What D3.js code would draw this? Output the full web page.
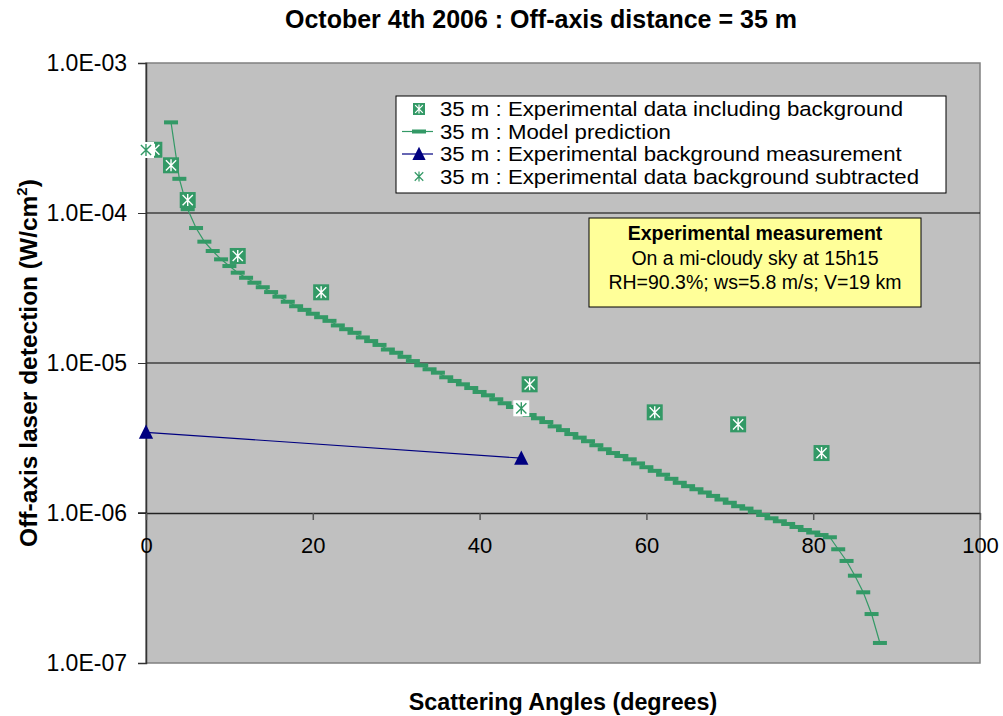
<!DOCTYPE html>
<meta charset="utf-8">
<style>
  body { margin: 0; background: #fff; }
  svg text { font-family: "Liberation Sans", Arial, sans-serif; fill: #000; }
</style>
<svg id="chart" width="1003" height="716"></svg>
<script src="https://cdn.jsdelivr.net/npm/d3@7/dist/d3.min.js"></script>
<script>

// model prediction, one point per degree (3..88)
var modelAngles = d3.range(3, 89);
var modelValues = [
  4.02e-4, 1.69e-4, 1.06e-4, 7.94e-5, 6.44e-5, 5.58e-5, 4.91e-5, 4.43e-5, 4.00e-5, 3.70e-5,
  3.43e-5, 3.20e-5, 2.97e-5, 2.77e-5, 2.56e-5, 2.39e-5, 2.26e-5, 2.13e-5, 2.02e-5, 1.91e-5,
  1.78e-5, 1.68e-5, 1.59e-5, 1.48e-5, 1.40e-5, 1.32e-5, 1.23e-5, 1.17e-5, 1.10e-5, 1.03e-5,
  9.65e-6, 9.08e-6, 8.62e-6, 8.03e-6, 7.59e-6, 7.21e-6, 6.81e-6, 6.41e-6, 6.09e-6, 5.73e-6,
  5.39e-6, 5.09e-6, 4.81e-6, 4.50e-6, 4.28e-6, 4.04e-6, 3.78e-6, 3.57e-6, 3.36e-6, 3.18e-6,
  3.01e-6, 2.83e-6, 2.66e-6, 2.51e-6, 2.40e-6, 2.28e-6, 2.14e-6, 2.02e-6, 1.91e-6, 1.80e-6,
  1.69e-6, 1.59e-6, 1.51e-6, 1.44e-6, 1.37e-6, 1.30e-6, 1.23e-6, 1.17e-6, 1.11e-6, 1.07e-6,
  1.02e-6, 9.70e-7, 9.22e-7, 8.81e-7, 8.45e-7, 8.07e-7, 7.70e-7, 7.41e-7, 7.13e-7, 6.89e-7,
  5.73e-7, 4.79e-7, 3.82e-7, 2.96e-7, 2.12e-7, 1.36e-7
];

var inclAngles = [1, 3, 5, 11, 21, 46, 61, 71, 81];
var inclValues = [2.64e-4, 2.08e-4, 1.22e-4, 5.17e-5, 2.96e-5, 7.21e-6, 4.69e-6, 3.90e-6, 2.51e-6];

var bgAngles = [0, 45];
var bgValues = [3.45e-6, 2.32e-6];

var subAngles = [0, 45];
var subValues = [2.63e-4, 4.99e-6];

var xTicks = [0, 20, 40, 60, 80, 100];
var yTicks = [1e-3, 1e-4, 1e-5, 1e-6, 1e-7];
var yTickLabels = ["1.0E-03", "1.0E-04", "1.0E-05", "1.0E-06", "1.0E-07"];

var legendLabels = [
  "35 m : Experimental data including background",
  "35 m : Model prediction",
  "35 m : Experimental background measurement",
  "35 m : Experimental data background subtracted"
];
var noteLines = [
  "Experimental measurement",
  "On a mi-cloudy sky at 15h15",
  "RH=90.3%; ws=5.8 m/s; V=19 km"
];

var green = "#339966", navy = "#000080";

var svg = d3.select("#chart");

var x = d3.scaleLinear().domain([0, 100]).range([146, 980]);
var y = d3.scaleLog().domain([1e-7, 1e-3]).range([663, 63]);

// plot area
svg.append("rect")
    .attr("x", x(0)).attr("y", y(1e-3))
    .attr("width", x(100) - x(0)).attr("height", y(1e-7) - y(1e-3))
    .attr("fill", "#c0c0c0")
    .attr("stroke", "#808080")
    .attr("stroke-width", 1.5);

svg.append("g").selectAll("line")
  .data([1e-4, 1e-5])
  .enter().append("line")
    .attr("x1", x(0)).attr("x2", x(100))
    .attr("y1", function(d) { return y(d); })
    .attr("y2", function(d) { return y(d); })
    .attr("stroke", "#000").attr("stroke-width", 1);

// y axis
var yAxis = svg.append("g")
    .attr("transform", "translate(" + x(0) + ",0)")
    .call(d3.axisLeft(y)
      .tickValues(yTicks)
      .tickFormat(function(d, i) { return yTickLabels[i]; })
      .tickSize(8)
      .tickPadding(11));
yAxis.select(".domain").attr("stroke", "#333").attr("stroke-width", 1.5);
yAxis.selectAll(".tick line").attr("stroke", "#333");
yAxis.selectAll("text").attr("font-size", 23);

// x axis crosses at 1e-6
var xAxis = svg.append("g")
    .attr("transform", "translate(0," + y(1e-6) + ")")
    .call(d3.axisBottom(x)
      .tickValues(xTicks)
      .tickSize(7)
      .tickSizeOuter(0)
      .tickPadding(17));
xAxis.select(".domain").attr("stroke", "#222").attr("stroke-width", 1.5);
xAxis.selectAll(".tick line").attr("stroke", "#555").attr("stroke-width", 1.5);
xAxis.selectAll("text").attr("font-size", 22);
// the x axis line runs out to the y tick marks
svg.append("line")
    .attr("x1", x(0) - 8).attr("x2", x(0))
    .attr("y1", y(1e-6)).attr("y2", y(1e-6))
    .attr("stroke", "#222").attr("stroke-width", 1.5);

function asterisk(sel, r, color, w) {
  sel.append("path")
      .attr("d", "M0," + (-r) + "V" + r +
                 "M" + (-r * 0.85) + "," + (-r * 0.85) + "L" + (r * 0.85) + "," + (r * 0.85) +
                 "M" + (-r * 0.85) + "," + (r * 0.85) + "L" + (r * 0.85) + "," + (-r * 0.85))
      .attr("stroke", color)
      .attr("stroke-width", w)
      .attr("fill", "none");
}

function triangle(sel, s) {
  sel.append("path")
      .attr("d", "M0," + (-s * 0.6) + "L" + (s * 0.55) + "," + (s * 0.5) + "L" + (-s * 0.55) + "," + (s * 0.5) + "Z")
      .attr("fill", navy);
}

// model prediction
var modelPts = modelAngles.map(function(a, i) { return [a, modelValues[i]]; });
svg.append("path")
    .datum(modelPts)
    .attr("fill", "none")
    .attr("stroke", green)
    .attr("stroke-width", 1.2)
    .attr("d", d3.line()
      .x(function(d) { return x(d[0]); })
      .y(function(d) { return y(d[1]); }));

svg.append("g").selectAll("rect")
  .data(modelPts)
  .enter().append("rect")
    .attr("x", function(d) { return x(d[0]) - 7; })
    .attr("y", function(d) { return y(d[1]) - 2; })
    .attr("width", 14).attr("height", 4)
    .attr("fill", green);

// background measurement
var bgPts = bgAngles.map(function(a, i) { return [a, bgValues[i]]; });
svg.append("path")
    .datum(bgPts)
    .attr("fill", "none")
    .attr("stroke", navy)
    .attr("stroke-width", 1.2)
    .attr("d", d3.line()
      .x(function(d) { return x(d[0]); })
      .y(function(d) { return y(d[1]); }));
svg.append("g").selectAll("g")
  .data(bgPts)
  .enter().append("g")
    .attr("transform", function(d) { return "translate(" + x(d[0]) + "," + y(d[1]) + ")"; })
    .each(function() { triangle(d3.select(this), 13); });

// data including background
var incl = svg.append("g").selectAll("g")
  .data(inclAngles.map(function(a, i) { return [a, inclValues[i]]; }))
  .enter().append("g")
    .attr("transform", function(d) { return "translate(" + x(d[0]) + "," + y(d[1]) + ")"; });
incl.append("rect")
    .attr("x", -8).attr("y", -8).attr("width", 16).attr("height", 16)
    .attr("fill", green);
incl.each(function() { asterisk(d3.select(this), 6, "#fff", 1.4); });

// background subtracted
var sub = svg.append("g").selectAll("g")
  .data(subAngles.map(function(a, i) { return [a, subValues[i]]; }))
  .enter().append("g")
    .attr("transform", function(d) { return "translate(" + x(d[0]) + "," + y(d[1]) + ")"; });
sub.append("rect")
    .attr("x", -8).attr("y", -8).attr("width", 16).attr("height", 16)
    .attr("fill", "#fff");
sub.each(function() { asterisk(d3.select(this), 6, green, 1.4); });

// legend
var legend = svg.append("g");
legend.append("rect")
    .attr("x", 396).attr("y", 96).attr("width", 550).attr("height", 97)
    .attr("fill", "#fff").attr("stroke", "#000").attr("stroke-width", 1);

var rowY = [109, 131.5, 154, 176.5];
legendLabels.forEach(function(t, i) {
  var g = legend.append("g").attr("transform", "translate(419," + rowY[i] + ")");
  if (i === 0) {
    g.append("rect").attr("x", -6).attr("y", -6).attr("width", 12).attr("height", 12).attr("fill", green);
    asterisk(g, 4.5, "#fff", 1.2);
  } else if (i === 1) {
    g.append("line").attr("x1", -17).attr("x2", 14).attr("stroke", green).attr("stroke-width", 1.2);
    g.append("rect").attr("x", -7).attr("y", -2).attr("width", 14).attr("height", 4).attr("fill", green);
  } else if (i === 2) {
    g.append("line").attr("x1", -17).attr("x2", 14).attr("stroke", navy).attr("stroke-width", 1.2);
    triangle(g, 12);
  } else {
    asterisk(g, 5, green, 1.2);
  }
  // text in the source is a bit wider than tall, stretch it sideways
  legend.append("text")
      .attr("transform", "translate(440," + (rowY[i] + 7) + ") scale(1.14,1)")
      .attr("font-size", 19.5)
      .text(t);
});

// note box
svg.append("rect")
    .attr("x", 589).attr("y", 218).attr("width", 332).attr("height", 89)
    .attr("fill", "#ffff99").attr("stroke", "#000").attr("stroke-width", 1);
var noteY = [240, 264.5, 289];
noteLines.forEach(function(t, i) {
  svg.append("text")
      .attr("x", 755).attr("y", noteY[i])
      .attr("text-anchor", "middle")
      .attr("font-size", 19.5)
      .attr("font-weight", i === 0 ? "bold" : "normal")
      .text(t);
});

// titles
svg.append("text")
    .attr("x", 541).attr("y", 28)
    .attr("text-anchor", "middle")
    .attr("font-size", 25).attr("font-weight", "bold")
    .text("October 4th 2006 : Off-axis distance = 35 m");

svg.append("text")
    .attr("x", 563).attr("y", 710)
    .attr("text-anchor", "middle")
    .attr("font-size", 23.3).attr("font-weight", "bold")
    .text("Scattering Angles (degrees)");

var yl = svg.append("text")
    .attr("transform", "translate(37,363) rotate(-90)")
    .attr("text-anchor", "middle")
    .attr("font-size", 24.5).attr("font-weight", "bold");
yl.append("tspan").text("Off-axis laser detection (W/cm");
yl.append("tspan").attr("font-size", 15).attr("dy", -10).text("2");
yl.append("tspan").attr("dy", 10).text(")");

</script>
